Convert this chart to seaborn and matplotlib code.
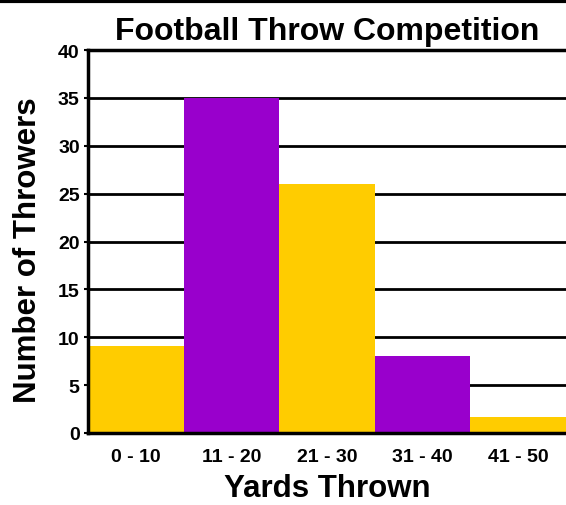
import matplotlib
matplotlib.use("Agg")
import matplotlib.pyplot as plt
import pandas as pd
import seaborn as sns

# ── Data ──────────────────────────────────────────────────────────────────────
RANGES   = ["0 - 10", "11 - 20", "21 - 30", "31 - 40", "41 - 50"]
THROWERS = [9.1, 35, 26, 8, 1.7]
COLORS   = ["#FFCC00", "#9900CC", "#FFCC00", "#9900CC", "#FFCC00"]
Y_TICKS  = [0, 5, 10, 15, 20, 25, 30, 35, 40]

sns.set_style("white")
plt.rcParams["font.family"] = ["Liberation Sans", "DejaVu Sans"]
plt.rcParams.update({"text.color": "black", "axes.labelcolor": "black",
                     "xtick.color": "black", "ytick.color": "black"})

df = pd.DataFrame({"range": RANGES, "count": THROWERS})

fig = plt.figure(figsize=(5.66, 5.06), dpi=100)
ax = fig.add_axes([0.1555, 0.1423, 0.8445, 0.7569])

for y in Y_TICKS[1:]:
    ax.axhline(y, color="black", lw=2, zorder=0)

sns.barplot(data=df, x="range", y="count", hue="range", palette=COLORS,
            width=1.0, saturation=1, legend=False, linewidth=0,
            ax=ax, zorder=2)

ax.set_ylim(0, 40)
ax.set_xlim(-0.5, 4.5)
ax.set_yticks(Y_TICKS)
ax.tick_params(axis="y", left=True, length=3, width=1.5, pad=3)
ax.tick_params(axis="x", bottom=False, pad=7)
for lab in ax.get_xticklabels() + ax.get_yticklabels():
    lab.set_fontweight("bold")
    lab.set_fontsize(14)

ax.set_xlabel("Yards Thrown", fontsize=22.5, fontweight="bold", labelpad=6)
ax.set_ylabel("Number of Throwers", fontsize=22.5, fontweight="bold", labelpad=11)
ax.yaxis.label.set_y(0.48)
ax.set_title("Football Throw Competition", fontsize=23, fontweight="bold", pad=8)

for side in ["left", "bottom", "top"]:
    ax.spines[side].set_linewidth(2.5)
    ax.spines[side].set_color("black")
ax.spines["right"].set_visible(False)

# border line at the very top of the image
fig.add_artist(plt.Line2D([0, 1], [0.996, 0.996], color="black", lw=3,
                          transform=fig.transFigure))

fig.savefig("out.png", dpi=100)
